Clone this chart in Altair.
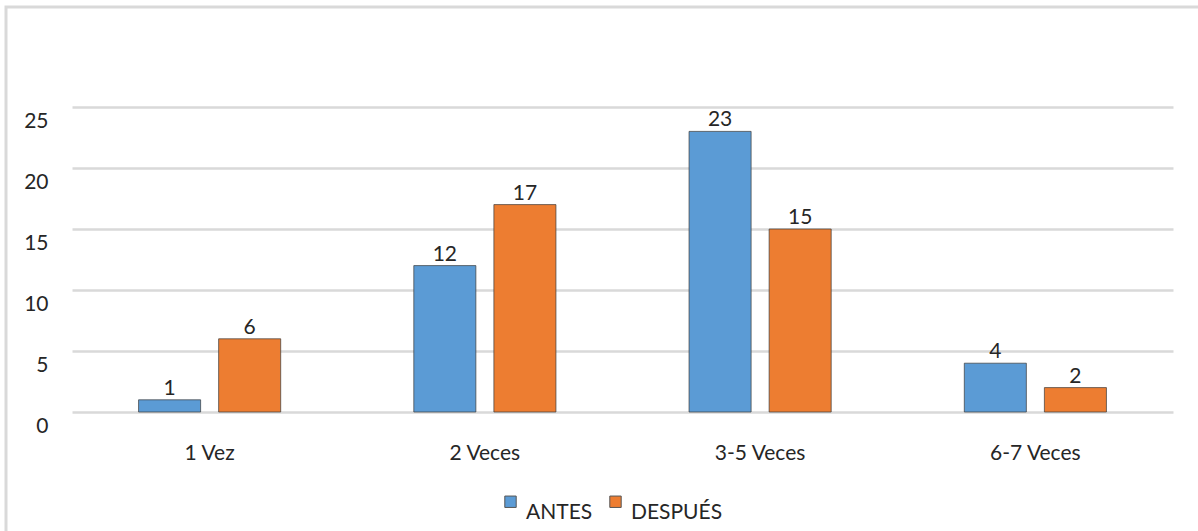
import altair as alt
import pandas as pd

categories = ["1 Vez", "2 Veces", "3-5 Veces", "6-7 Veces"]
series = ["ANTES", "DESPUÉS"]
antes = [1, 12, 23, 4]
despues = [6, 17, 15, 2]
colors = ["#5b9bd5", "#ed7d31"]
y_ticks = [0, 5, 10, 15, 20, 25]

rows = []
for c, a, d in zip(categories, antes, despues):
    rows.append({"categoria": c, "serie": "ANTES", "valor": a})
    rows.append({"categoria": c, "serie": "DESPUÉS", "valor": d})
df = pd.DataFrame(rows)

FONT = "Lato"
TXT = "#262626"

x_enc = alt.X(
    "categoria:N",
    sort=categories,
    scale=alt.Scale(paddingInner=0, paddingOuter=0),
    axis=alt.Axis(
        title=None, labelAngle=0, domain=False, ticks=False,
        labelFont=FONT, labelFontSize=21, labelColor=TXT,
        labelPadding=30, labelBaseline="top",
    ),
)
xoff_enc = alt.XOffset(
    "serie:N", sort=series,
    scale=alt.Scale(paddingInner=0.225, paddingOuter=0.831),
)
y_enc = alt.Y(
    "valor:Q",
    scale=alt.Scale(domain=[0, 25], nice=False),
    axis=alt.Axis(
        title=None, values=y_ticks, domain=False, ticks=False,
        grid=True, gridColor="#d9d9d9", gridWidth=2.5,
        labelFont=FONT, labelFontSize=21, labelColor=TXT,
        labelPadding=24, labelOffset=14,
    ),
)

base = alt.Chart(df).encode(x=x_enc, xOffset=xoff_enc, y=y_enc)

bars = base.mark_bar(stroke="#3a3a3a", strokeWidth=1, strokeOpacity=0.7).encode(
    color=alt.Color(
        "serie:N", sort=series,
        scale=alt.Scale(domain=series, range=colors),
        legend=alt.Legend(
            title=None, orient="none", direction="horizontal",
            legendX=428, legendY=384,
            symbolType="square", symbolSize=130,
            symbolStrokeColor="#555555", symbolStrokeWidth=1,
            labelFont=FONT, labelFontSize=21, labelColor=TXT,
            labelBaseline="top", labelOffset=5, columnPadding=12,
        ),
    )
)

labels = base.mark_text(
    baseline="bottom", dy=-1, font=FONT, fontSize=21, color=TXT
).encode(text="valor:Q")

border = alt.Chart(pd.DataFrame({"k": [0]})).mark_rect(
    fill=None, stroke="#d9d9d9", strokeWidth=3
).encode(
    x=alt.value(-66), x2=alt.value(1140),
    y=alt.value(-100), y2=alt.value(440),
)

chart = alt.layer(border, bars, labels).properties(
    width=1101, height=305,
    autosize=alt.AutoSizeParams(type="none"),
    padding={"left": 72, "top": 107, "right": 25, "bottom": 119},
    background="white",
).configure_view(stroke=None)

chart.save("out.html", embed_options={"renderer": "svg", "actions": False})
